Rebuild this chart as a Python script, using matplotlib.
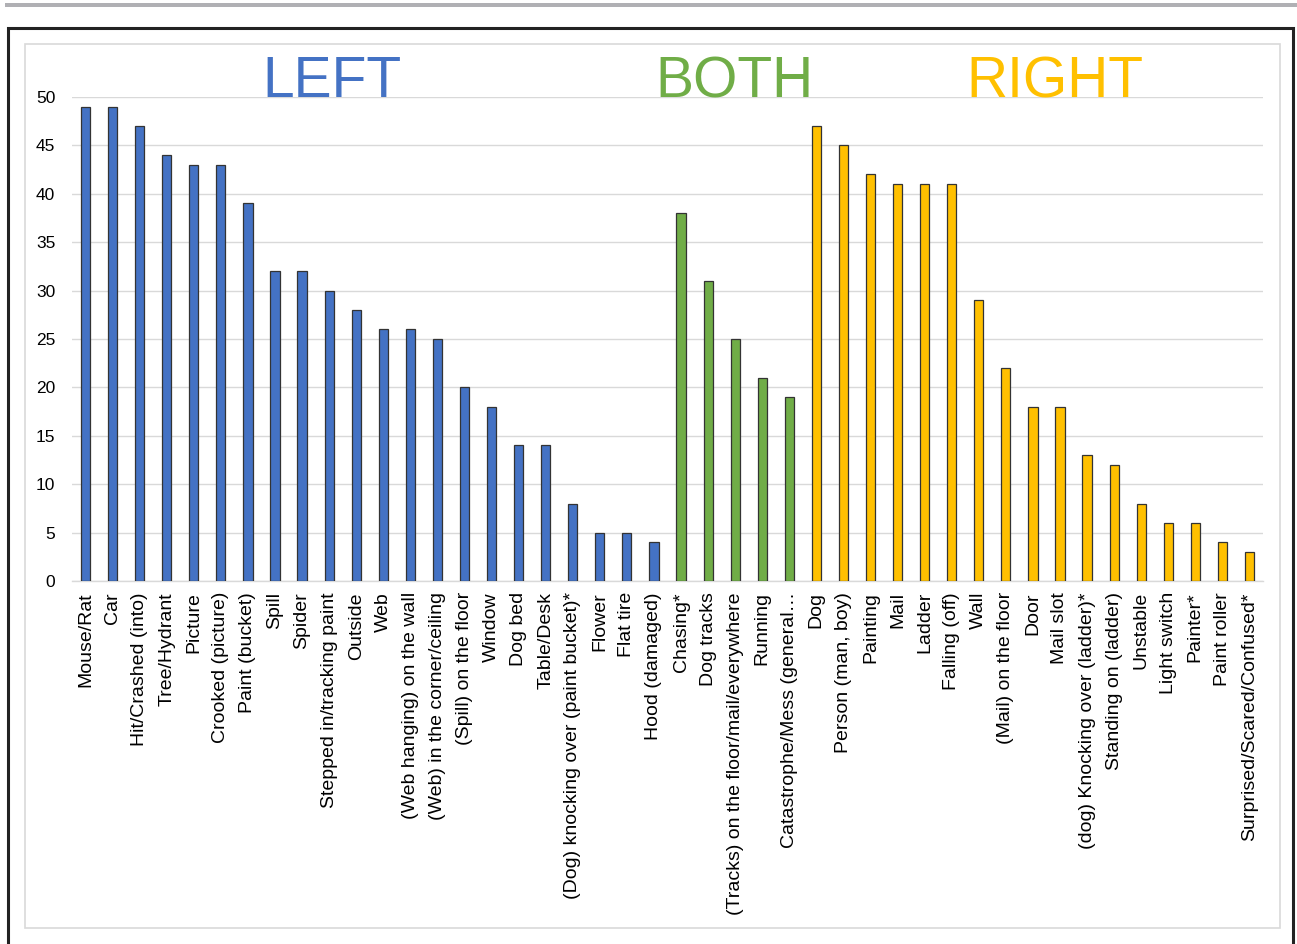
import matplotlib
matplotlib.use("Agg")
import matplotlib.pyplot as plt
from matplotlib.patches import Rectangle
import numpy as np

plt.rcParams['font.family'] = ['Liberation Sans', 'DejaVu Sans']

left_labels = ["Mouse/Rat", "Car", "Hit/Crashed (into)", "Tree/Hydrant", "Picture",
               "Crooked (picture)", "Paint (bucket)", "Spill", "Spider",
               "Stepped in/tracking paint", "Outside", "Web", "(Web hanging) on the wall",
               "(Web) in the corner/ceiling", "(Spill) on the floor", "Window", "Dog bed",
               "Table/Desk", "(Dog) knocking over (paint bucket)*", "Flower", "Flat tire",
               "Hood (damaged)"]
left_values = [49, 49, 47, 44, 43, 43, 39, 32, 32, 30, 28, 26, 26, 25, 20, 18, 14, 14, 8, 5, 5, 4]

both_labels = ["Chasing*", "Dog tracks", "(Tracks) on the floor/mail/everywhere", "Running",
               "Catastrophe/Mess (general\u2026"]
both_values = [38, 31, 25, 21, 19]

right_labels = ["Dog", "Person (man, boy)", "Painting", "Mail", "Ladder", "Falling (off)", "Wall",
                "(Mail) on the floor", "Door", "Mail slot", "(dog) Knocking over (ladder)*",
                "Standing on (ladder)", "Unstable", "Light switch", "Painter*", "Paint roller",
                "Surprised/Scared/Confused*"]
right_values = [47, 45, 42, 41, 41, 41, 29, 22, 18, 18, 13, 12, 8, 6, 6, 4, 3]

yticks = [0, 5, 10, 15, 20, 25, 30, 35, 40, 45, 50]

BLUE, GREEN, GOLD = "#4472C4", "#70AD47", "#FFC000"

labels = left_labels + both_labels + right_labels
values = left_values + both_values + right_values
colors = [BLUE] * len(left_labels) + [GREEN] * len(both_labels) + [GOLD] * len(right_labels)
x = np.arange(len(labels))

fig = plt.figure(figsize=(12.97, 9.44), dpi=100)

# page decorations: grey strip at top, black outer frame, light inner frame
fig.patches.append(Rectangle((5 / 1297, 1 - 7 / 944), 1292 / 1297, 4 / 944,
                             transform=fig.transFigure, facecolor="#b0b0b4", edgecolor="none"))
fig.patches.append(Rectangle((8 / 1297, -0.01), 1285 / 1297, 1 - 28 / 944 + 0.01,
                             transform=fig.transFigure, facecolor="none", edgecolor="#222222", lw=2.2))
fig.patches.append(Rectangle((25 / 1297, 1 - 928 / 944), 1255 / 1297, 884 / 944,
                             transform=fig.transFigure, facecolor="none", edgecolor="#d9d9d9", lw=1.2))

ax = fig.add_axes([72 / 1297, 1 - 581 / 944, 1191 / 1297, 484 / 944])
ax.bar(x, values, width=0.34, color=colors, edgecolor="#333333", linewidth=0.9, zorder=3)

ax.set_xlim(-0.5, len(labels) - 0.5)
ax.set_ylim(0, 50)
ax.set_yticks(yticks)
ax.yaxis.grid(True, color="#d9d9d9", linewidth=1.0, zorder=0)
ax.set_axisbelow(True)
for side in ["top", "right", "left"]:
    ax.spines[side].set_visible(False)
ax.spines["bottom"].set_color("#d9d9d9")
ax.spines["bottom"].set_linewidth(1.0)
ax.tick_params(axis="y", length=0, labelsize=12.5, pad=12)
ax.tick_params(axis="x", length=0, pad=8)
ax.set_xticks(x)
ax.set_xticklabels(labels, rotation=90, fontsize=14, ha="center", va="top")

# group headings
ax.text(9.12, 50, "LEFT", color=BLUE, fontsize=41, ha="center", va="baseline")
ax.text(23.97, 50, "BOTH", color=GREEN, fontsize=41, ha="center", va="baseline")
ax.text(35.82, 50, "RIGHT", color=GOLD, fontsize=41, ha="center", va="baseline")

fig.savefig("out.png", dpi=100)
